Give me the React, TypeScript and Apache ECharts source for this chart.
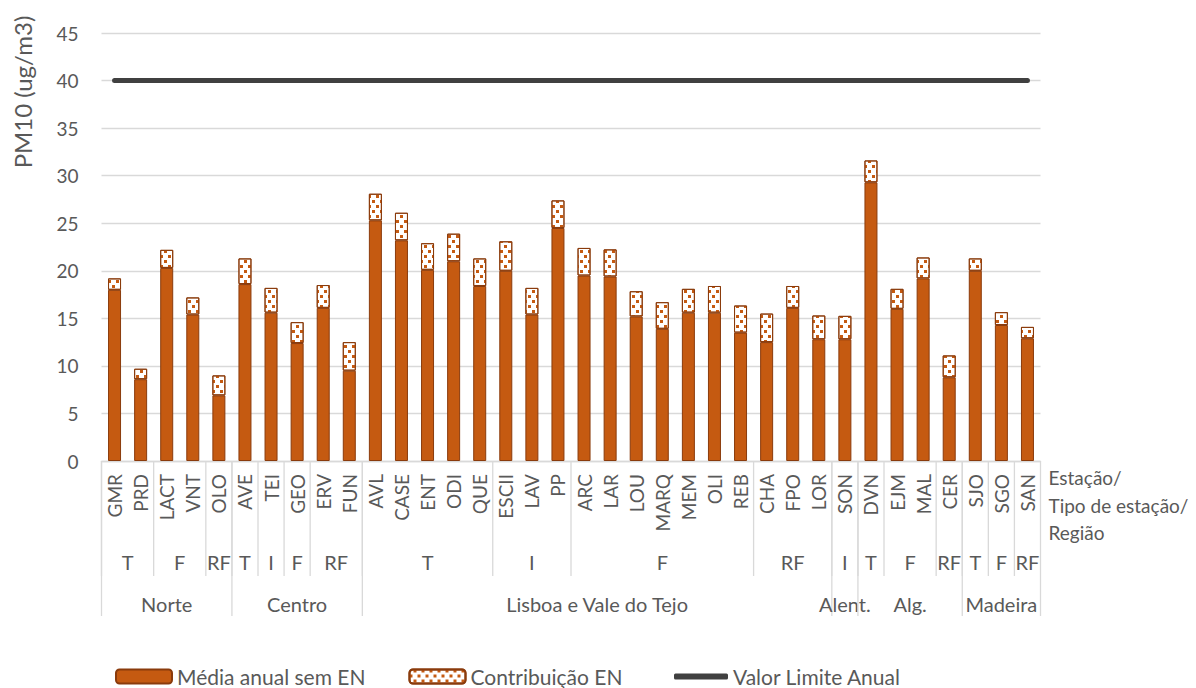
import React, { useEffect, useRef } from "react";
import * as echarts from "echarts";

const stations = ["GMR","PRD","LACT","VNT","OLO","AVE","TEI","GEO","ERV","FUN","AVL","CASE","ENT","ODI","QUE","ESCII","LAV","PP","ARC","LAR","LOU","MARQ","MEM","OLI","REB","CHA","FPO","LOR","SON","DVN","EJM","MAL","CER","SJO","SGO","SAN"];
const mediaSemEN = [18.0, 8.6, 20.3, 15.4, 6.9, 18.6, 15.6, 12.4, 16.1, 9.5, 25.3, 23.2, 20.1, 21.0, 18.4, 20.0, 15.4, 24.5, 19.5, 19.4, 15.2, 13.9, 15.6, 15.6, 13.5, 12.5, 16.1, 12.8, 12.8, 29.3, 16.0, 19.2, 8.8, 20.0, 14.3, 12.9];
const contribEN = [1.2, 1.1, 1.9, 1.8, 2.1, 2.7, 2.6, 2.2, 2.4, 3.0, 2.8, 2.9, 2.8, 2.9, 2.9, 3.1, 2.8, 2.9, 2.9, 2.85, 2.65, 2.8, 2.5, 2.8, 2.85, 3.0, 2.3, 2.5, 2.46, 2.3, 2.1, 2.2, 2.3, 1.3, 1.35, 1.2];
const limitValue = 40;
const typeLabels = ["T","F","RF","T","I","F","RF","T","I","F","RF","I","T","F","RF","T","F","RF"];
const typeCounts = [2,2,1,1,1,1,2,5,3,7,3,1,1,2,1,1,1,1];
const regionLabels = ["Norte","Centro","Lisboa e Vale do Tejo","Alent.","Alg.","Madeira"];
const regionCounts = [5,5,18,1,4,3];
const yTicks = { min: 0, max: 45, interval: 5 };

const FONT = "Lato";
const TXT = "#595959";
const ORANGE = "#C55A11";
const BORDER = "#8A3B0C";
const GRID = "#D9D9D9";

export default function App() {
  const ref = useRef<HTMLDivElement>(null);
  useEffect(() => {
    if (!ref.current) return;
    const chart = echarts.init(ref.current, null, { renderer: "svg" });
    chart.setOption({
      animation: false,
      textStyle: { fontFamily: FONT },
      grid: { left: 101.5, right: 155.5, top: 33, bottom: 227 },
      legend: [
        {
          top: 666,
          left: 115,
          padding: 0,
          itemGap: 43,
          itemWidth: 56,
          itemHeight: 14,
          textStyle: { fontFamily: FONT, fontSize: 21, color: TXT },
          data: ["Média anual sem EN", "Contribuição EN"],
        },
        {
          top: 666,
          left: 674,
          padding: 0,
          itemWidth: 54,
          itemHeight: 6,
          icon: "roundRect",
          textStyle: { fontFamily: FONT, fontSize: 21, color: TXT },
          data: ["Valor Limite Anual"],
        },
      ],
      xAxis: {
        type: "category",
        data: stations,
        axisLine: { lineStyle: { color: GRID, width: 1.3 } },
        axisTick: { show: false },
        axisLabel: { rotate: 90, fontFamily: FONT, fontSize: 19, color: TXT, margin: 13, interval: 0 },
      },
      yAxis: {
        type: "value",
        min: yTicks.min,
        max: yTicks.max,
        interval: yTicks.interval,
        axisLine: { show: false },
        axisTick: { show: false },
        splitLine: { lineStyle: { color: GRID, width: 1.3 } },
        axisLabel: { fontFamily: FONT, fontSize: 19, color: TXT, margin: 23 },
      },
      series: [
        {
          name: "Média anual sem EN",
          type: "bar",
          stack: "a",
          barWidth: 13,
          data: mediaSemEN,
          itemStyle: { color: ORANGE, borderColor: BORDER, borderWidth: 1 },
        },
        {
          name: "Contribuição EN",
          type: "bar",
          stack: "a",
          barWidth: 13,
          data: contribEN,
          itemStyle: {
            color: "#FFFFFF",
            borderColor: BORDER,
            borderWidth: 1,
            decal: {
              symbol: "rect",
              symbolSize: 1,
              color: ORANGE,
              dashArrayX: [[3, 5], [0, 4, 3, 1]],
              dashArrayY: [3, 2],
              rotation: 0,
            },
          },
        },
        {
          name: "Valor Limite Anual",
          type: "line",
          data: stations.map(() => limitValue),
          symbol: "none",
          lineStyle: { color: "#404040", width: 5, cap: "round" },
          itemStyle: { color: "#404040" },
        },
      ],
    });

    const cx = (i: number) => chart.convertToPixel({ xAxisIndex: 0 }, i) as number;
    const step = cx(1) - cx(0);
    const bx = (i: number) => cx(i) - step / 2;
    const y0 = chart.convertToPixel({ yAxisIndex: 0 }, 0) as number;
    const g: any[] = [];
    const lineStyle = { stroke: GRID, lineWidth: 1.3 };
    let idx = 0;
    typeCounts.forEach((c, k) => {
      g.push({ type: "line", shape: { x1: bx(idx), y1: y0, x2: bx(idx), y2: y0 + 115 }, style: lineStyle });
      const mid = (bx(idx) + bx(idx + c)) / 2;
      g.push({ type: "text", x: mid, y: y0 + 101, style: { text: typeLabels[k], fill: TXT, font: `20px ${FONT}`, align: "center", verticalAlign: "middle" } });
      idx += c;
    });
    g.push({ type: "line", shape: { x1: bx(idx), y1: y0, x2: bx(idx), y2: y0 + 155 }, style: lineStyle });
    idx = 0;
    regionCounts.forEach((c, k) => {
      g.push({ type: "line", shape: { x1: bx(idx), y1: y0, x2: bx(idx), y2: y0 + 155 }, style: lineStyle });
      const mid = (bx(idx) + bx(idx + c)) / 2;
      g.push({ type: "text", x: mid, y: y0 + 143, style: { text: regionLabels[k], fill: TXT, font: `20px ${FONT}`, align: "center", verticalAlign: "middle" } });
      idx += c;
    });
    g.push({ type: "text", x: bx(stations.length) + 8, y: y0 + 3, style: { text: "Estação/\nTipo de estação/\nRegião", fill: TXT, font: `19px ${FONT}`, lineHeight: 27.5, align: "left", verticalAlign: "top" } });
    g.push({ type: "text", x: 22, y: 92, rotation: Math.PI / 2, style: { text: "PM10 (ug/m3)", fill: TXT, font: `24px ${FONT}`, align: "center", verticalAlign: "middle" } });
    chart.setOption({ graphic: g });

    return () => chart.dispose();
  }, []);
  return <div ref={ref} style={{ position: "absolute", left: 0, top: 0, width: 1196, height: 688 }} />;
}
